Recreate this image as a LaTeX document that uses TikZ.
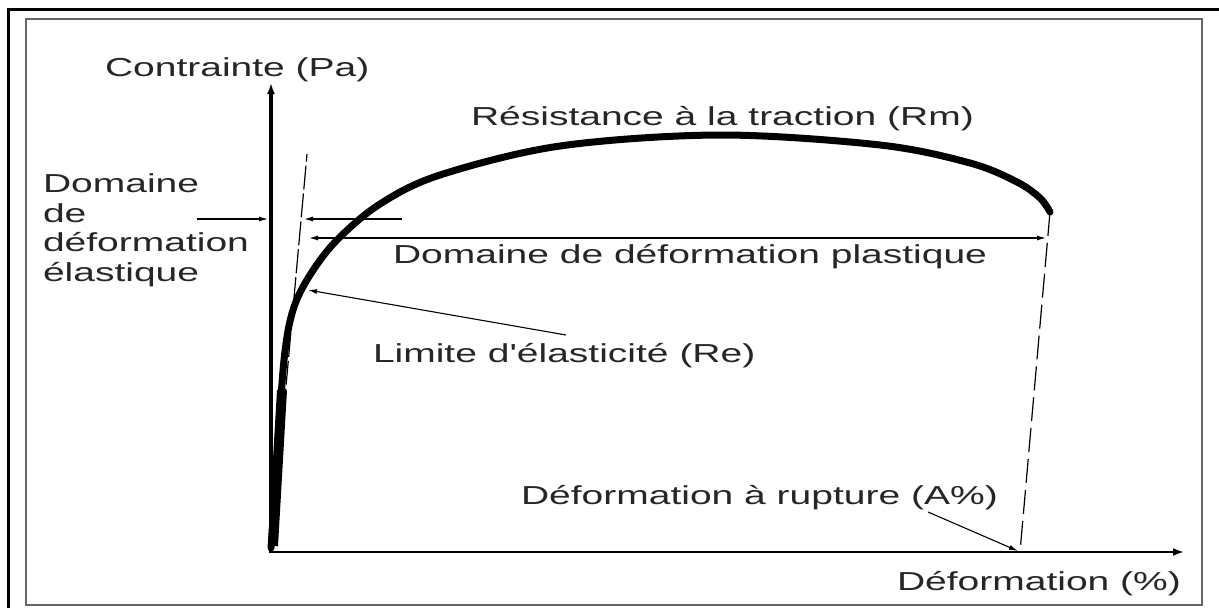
\documentclass[tikz,border=0pt]{standalone}
\usepackage{fontspec}
\newfontfamily\lblfont{Liberation Sans}[FakeStretch=1.5]
\usetikzlibrary{arrows.meta}
\tikzset{
  lbl/.style={inner sep=0pt, outer sep=0pt, text=black!85, font=\lblfont\fontsize{26}{29.5}\selectfont},
  thinarrow/.style={line width=1.1pt, -{Latex[length=9pt,width=5pt]}},
  axis/.style={-{Latex[length=11pt,width=8pt]}},
  dashline/.style={line width=1.2pt, dash pattern=on 24pt off 4pt},
  curveline/.style={line width=7pt, line cap=round, line join=round},
}
\begin{document}
\begin{tikzpicture}[x=1pt,y=-1pt]
\useasboundingbox (0,0) rectangle (1219,608);
% frames
\draw[line width=3pt] (8,608) -- (8,9) -- (1219,9);
\draw[line width=2pt, black!60] (26,19) rectangle (1202,605);
% key points
\coordinate (O) at (271,552);
\coordinate (O2) at (269,552);
\coordinate (ytop) at (271,83);
\coordinate (xend) at (1184,552);
\coordinate (etop) at (307,154);
\coordinate (rend) at (1050,212);
\coordinate (rfoot) at (1020,552);
% axes
\draw[axis, line width=4pt] (O) -- (ytop);
\draw[axis, line width=2pt] (O2) -- (xend);
% dashed lines
\draw[dashline] (O) -- (etop);
\draw[dashline, dash pattern=on 24pt off 7pt] (rend) -- (rfoot);
% curve
\draw[curveline] plot[smooth, tension=0.55] coordinates {
  (271,548) (277,460) (284,360) (293,310) (310,275) (337,240) (380,204)
  (440,175) (560,146) (720,135) (880,145) (970,163) (1017,182) (1040,198) (1050,212)};
\draw[line width=10pt] (273,546) -- (282,390);
% labels
\node[lbl, anchor=base west] (ylab) at (105,76) {Contrainte (Pa)};
\node[lbl, anchor=base west] (xlab) at (897,590) {Déformation (\%)};
\node[lbl, anchor=base west] (rm) at (471,125) {Résistance à la traction (Rm)};
\node[lbl, anchor=base west] (plast) at (393,263) {Domaine de déformation plastique};
\node[lbl, anchor=base west] (re) at (373,362) {Limite d'élasticité (Re)};
\node[lbl, anchor=base west] (rupt) at (521,504) {Déformation à rupture (A\%)};
\node[lbl, anchor=north west, align=left] (elast) at (43,174) {Domaine\\de\\déformation\\élastique};
% annotation arrows
\coordinate (a1s) at (197,219);
\coordinate (a1e) at (268,219);
\coordinate (a2s) at (402,219);
\coordinate (a2e) at (304,219);
\coordinate (a3s) at (309,238);
\coordinate (a3e) at (1046,238);
\coordinate (a4s) at (566,335);
\coordinate (a4e) at (308,290);
\coordinate (a5s) at (928,512);
\coordinate (a5e) at (1018,551);
\draw[thinarrow] (a1s) -- (a1e);
\draw[thinarrow] (a2s) -- (a2e);
\draw[thinarrow, {Latex[length=9pt,width=5pt]}-{Latex[length=9pt,width=5pt]}] (a3s) -- (a3e);
\draw[thinarrow] (a4s) -- (a4e);
\draw[thinarrow] (a5s) -- (a5e);
\end{tikzpicture}
\end{document}
